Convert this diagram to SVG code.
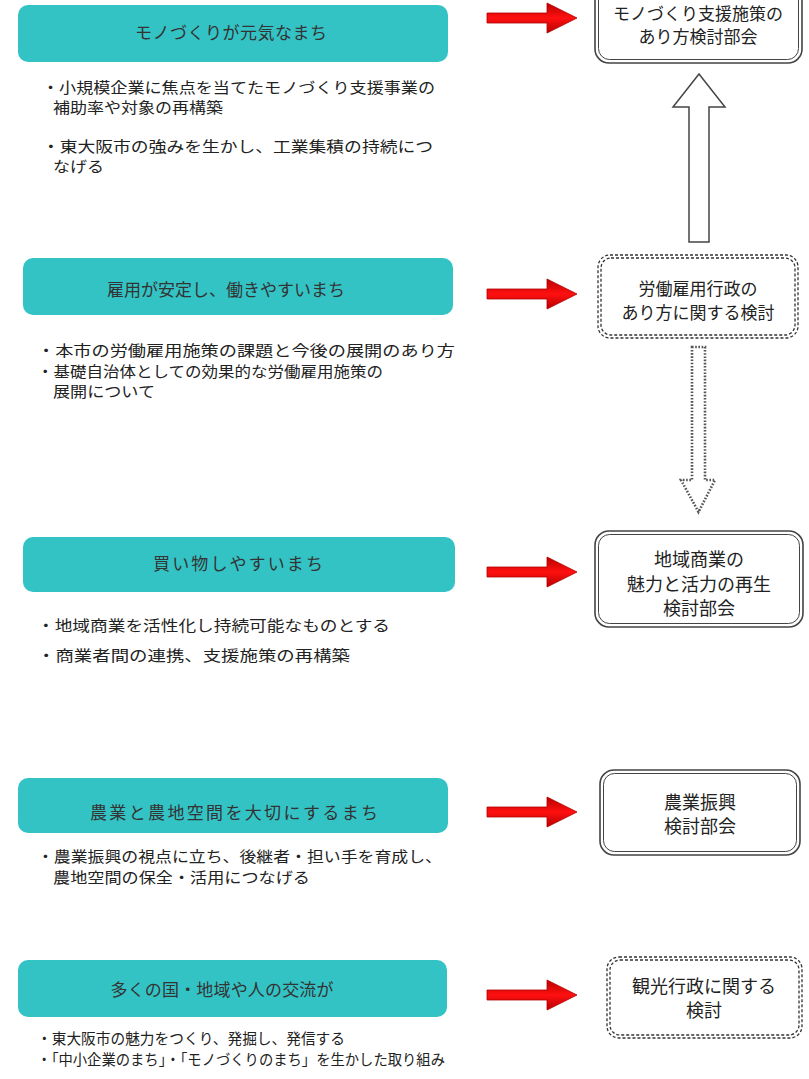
<svg xmlns="http://www.w3.org/2000/svg" width="809" height="1079" viewBox="0 0 809 1079">
<style>
text{font-family:"Noto Sans CJK JP","Noto Sans CJK SC",sans-serif;}
.title{font-size:17px;text-anchor:middle;fill:#333;}
.b{font-size:15px;fill:#222;}
.bs{font-size:15px;fill:#222;}
.rb{font-size:17px;text-anchor:middle;fill:#222;}
.rb18{font-size:18px;text-anchor:middle;fill:#222;}
.teal{fill:#34c3c5;}
.dbo{fill:#fff;stroke:#444;stroke-width:1.6;}
.dbi{fill:none;stroke:#444;stroke-width:1;}
.dsh{fill:none;stroke:#333;stroke-width:1.3;stroke-dasharray:3 2;}
.red{fill:url(#redGrad);stroke:#b00000;stroke-width:0.8;}
</style>
<defs>
<linearGradient id="redGrad" x1="0" y1="0" x2="0" y2="1">
<stop offset="0" stop-color="#b80000"/>
<stop offset="0.5" stop-color="#ff1010"/>
<stop offset="1" stop-color="#b80000"/>
</linearGradient>
<polygon id="redArrow" points="0,-5 60,-5 60,-15 90,0 60,15 60,5 0,5"/>
</defs>
<rect width="809" height="1079" fill="#fff"/>

<g id="theme1">
<rect class="teal" x="18" y="5" width="430" height="57" rx="10"/>
<text class="title" x="231" y="39" textLength="192">モノづくりが元気なまち</text>
<text class="b" x="42" y="93" textLength="393" lengthAdjust="spacingAndGlyphs">・小規模企業に焦点を当てたモノづくり支援事業の</text>
<text class="b" x="53" y="113" textLength="170" lengthAdjust="spacingAndGlyphs">補助率や対象の再構築</text>
<text class="b" x="42" y="152" textLength="391" lengthAdjust="spacingAndGlyphs">・東大阪市の強みを生かし、工業集積の持続につ</text>
<text class="b" x="53" y="172" textLength="51" lengthAdjust="spacingAndGlyphs">なげる</text>
</g>

<g id="theme2">
<rect class="teal" x="23" y="258" width="430" height="57" rx="10"/>
<text class="title" x="226" y="296" textLength="238">雇用が安定し、働きやすいまち</text>
<text class="b" x="37" y="356" textLength="418" lengthAdjust="spacingAndGlyphs">・本市の労働雇用施策の課題と今後の展開のあり方</text>
<text class="b" x="37" y="377" textLength="346" lengthAdjust="spacingAndGlyphs">・基礎自治体としての効果的な労働雇用施策の</text>
<text class="b" x="53" y="397" textLength="102" lengthAdjust="spacingAndGlyphs">展開について</text>
</g>

<g id="theme3">
<rect class="teal" x="23" y="537" width="432" height="55" rx="10"/>
<text class="title" x="238" y="570" textLength="170">買い物しやすいまち</text>
<text class="b" x="37" y="631" textLength="353" lengthAdjust="spacingAndGlyphs">・地域商業を活性化し持続可能なものとする</text>
<text class="b" x="37" y="661" textLength="313" lengthAdjust="spacingAndGlyphs">・商業者間の連携、支援施策の再構築</text>
</g>

<g id="theme4">
<rect class="teal" x="18" y="778" width="430" height="55" rx="10"/>
<text class="title" x="234" y="819" textLength="288">農業と農地空間を大切にするまち</text>
<text class="b" x="37" y="862" textLength="405" lengthAdjust="spacingAndGlyphs">・農業振興の視点に立ち、後継者・担い手を育成し、</text>
<text class="b" x="53" y="883" textLength="257" lengthAdjust="spacingAndGlyphs">農地空間の保全・活用につなげる</text>
</g>

<g id="theme5">
<rect class="teal" x="18" y="960" width="429" height="57" rx="10"/>
<text class="title" x="222" y="996" textLength="223">多くの国・地域や人の交流が</text>
<text class="bs" x="37" y="1044" textLength="308" lengthAdjust="spacingAndGlyphs">・東大阪市の魅力をつくり、発掘し、発信する</text>
<text class="bs" x="37" y="1065" textLength="408" lengthAdjust="spacingAndGlyphs">・「中小企業のまち」・「モノづくりのまち」を生かした取り組み</text>
</g>

<g id="committee1">
<rect class="dbo" x="595" y="-20" width="207" height="83" rx="14"/>
<rect class="dbi" x="598.5" y="-16.5" width="200" height="76" rx="11"/>
<text class="rb" x="698" y="20">モノづくり支援施策の</text>
<text class="rb" x="698" y="43">あり方検討部会</text>
</g>

<g id="study1">
<rect class="dsh" x="598" y="255" width="200" height="83" rx="12"/>
<rect class="dsh" x="601" y="258" width="194" height="77" rx="10"/>
<text class="rb" x="698" y="295">労働雇用行政の</text>
<text class="rb" x="698" y="319">あり方に関する検討</text>
</g>

<g id="committee2">
<rect class="dbo" x="595" y="531" width="208" height="96" rx="14"/>
<rect class="dbi" x="598.5" y="534.5" width="201" height="89" rx="11"/>
<text class="rb18" x="699" y="566">地域商業の</text>
<text class="rb18" x="699" y="591">魅力と活力の再生</text>
<text class="rb18" x="699" y="615">検討部会</text>
</g>

<g id="committee3">
<rect class="dbo" x="600" y="770" width="200" height="85" rx="14"/>
<rect class="dbi" x="603.5" y="773.5" width="193" height="78" rx="11"/>
<text class="rb18" x="700" y="809">農業振興</text>
<text class="rb18" x="700" y="833">検討部会</text>
</g>

<g id="study2">
<rect class="dsh" x="607" y="957" width="195" height="81" rx="12"/>
<rect class="dsh" x="610" y="960" width="189" height="75" rx="10"/>
<text class="rb18" x="704" y="993">観光行政に関する</text>
<text class="rb18" x="704" y="1017">検討</text>
</g>

<g id="connectors">
<use href="#redArrow" class="red" x="487" y="18"/>
<use href="#redArrow" class="red" x="487" y="294"/>
<use href="#redArrow" class="red" x="487" y="572"/>
<use href="#redArrow" class="red" x="487" y="812"/>
<use href="#redArrow" class="red" x="487" y="995"/>
<polygon points="689,242 689,107 673,107 699,74 725,107 709,107 709,242" fill="#fff" stroke="#444" stroke-width="1.5" stroke-linejoin="miter"/>
<polygon points="692,347 705,347 705,480 715,480 698.5,512 681,480 692,480" fill="#fff" stroke="#555" stroke-width="2.6" stroke-dasharray="1.6 1.6"/>
</g>
</svg>
